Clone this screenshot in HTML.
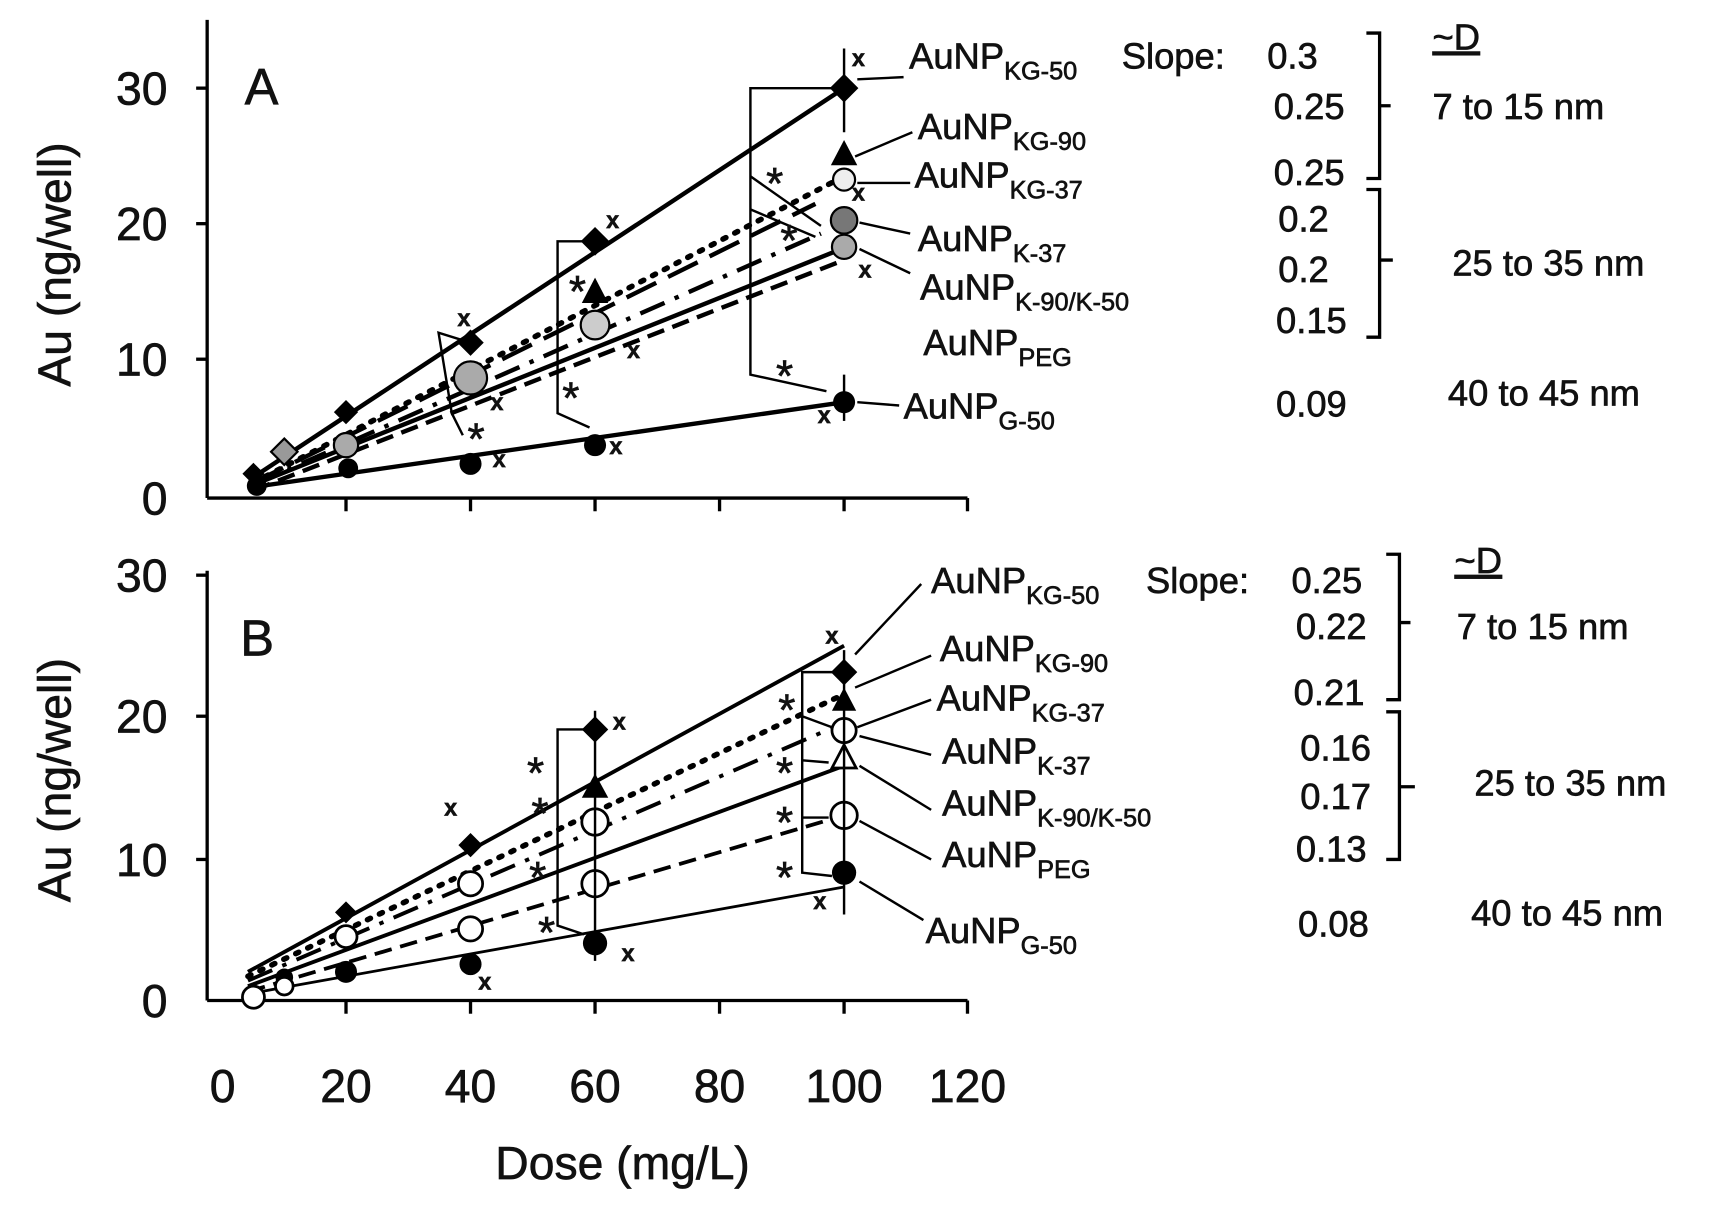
<!DOCTYPE html>
<html><head><meta charset="utf-8"><style>
html,body{margin:0;padding:0;background:#fff;}
svg{display:block;}
text{font-family:"Liberation Sans",sans-serif;fill:#111;stroke:#111;stroke-width:0.6;}
</style></head><body>
<svg width="1719" height="1206" viewBox="0 0 1560 1094.5" preserveAspectRatio="none" xmlns="http://www.w3.org/2000/svg">
<g stroke="#000" stroke-width="3" fill="none">
<line x1="188" y1="18" x2="188" y2="452"/>
<line x1="188" y1="452" x2="878" y2="452"/>
<line x1="178" y1="80" x2="188" y2="80"/><line x1="178" y1="203" x2="188" y2="203"/><line x1="178" y1="326" x2="188" y2="326"/>
<line x1="314" y1="452" x2="314" y2="464"/><line x1="427" y1="452" x2="427" y2="464"/><line x1="540" y1="452" x2="540" y2="464"/><line x1="653" y1="452" x2="653" y2="464"/><line x1="766" y1="452" x2="766" y2="464"/><line x1="878" y1="452" x2="878" y2="464"/>
<line x1="188" y1="518" x2="188" y2="908"/>
<line x1="188" y1="908" x2="878" y2="908"/>
<line x1="178" y1="522" x2="188" y2="522"/><line x1="178" y1="650" x2="188" y2="650"/><line x1="178" y1="780" x2="188" y2="780"/>
<line x1="314" y1="908" x2="314" y2="920"/><line x1="427" y1="908" x2="427" y2="920"/><line x1="540" y1="908" x2="540" y2="920"/><line x1="653" y1="908" x2="653" y2="920"/><line x1="766" y1="908" x2="766" y2="920"/><line x1="878" y1="908" x2="878" y2="920"/>
</g>
<g font-size="42" text-anchor="end">
<text x="152" y="95">30</text><text x="152" y="218">20</text><text x="152" y="341">10</text><text x="152" y="467">0</text>
<text x="152" y="537">30</text><text x="152" y="665">20</text><text x="152" y="795">10</text><text x="152" y="923">0</text>
</g>
<g font-size="42" text-anchor="middle">
<text x="202" y="1000">0</text><text x="314" y="1000">20</text><text x="427" y="1000">40</text><text x="540" y="1000">60</text><text x="653" y="1000">80</text><text x="766" y="1000">100</text><text x="878" y="1000">120</text>
<text x="565" y="1070">Dose (mg/L)</text>
<text transform="translate(64,240) rotate(-90)">Au (ng/well)</text>
<text transform="translate(64,708) rotate(-90)">Au (ng/well)</text>
</g>
<text x="222" y="95" font-size="46">A</text>
<text x="218" y="595" font-size="46">B</text>
<g stroke="#000" stroke-width="4" fill="none">
<line x1="230" y1="433" x2="766" y2="80"/>
<line x1="230" y1="442" x2="766" y2="365"/>
<line x1="230" y1="438" x2="766" y2="160" stroke-dasharray="3,9" stroke-linecap="round" stroke-width="5"/>
<line x1="230" y1="438" x2="740" y2="185" stroke-dasharray="30,12"/>
<line x1="230" y1="440" x2="745" y2="212" stroke-dasharray="24,10,4,10"/>
<line x1="230" y1="440" x2="766" y2="225"/>
<line x1="230" y1="445" x2="766" y2="236" stroke-dasharray="16,8"/>
</g>
<g stroke="#000" stroke-width="3.5" fill="none">
<line x1="225" y1="882" x2="766" y2="586"/>
<line x1="225" y1="886" x2="766" y2="630" stroke-dasharray="3,9" stroke-linecap="round" stroke-width="5"/>
<line x1="225" y1="890" x2="766" y2="656" stroke-dasharray="24,10,4,10"/>
<line x1="225" y1="895" x2="766" y2="695"/>
<line x1="225" y1="900" x2="766" y2="740" stroke-dasharray="16,8"/>
<line x1="225" y1="902" x2="766" y2="805" stroke-width="2.5"/>
</g>
<g fill="#000">
<polygon points="766,67 779,80 766,93 753,80"/><polygon points="540,206 553,219 540,232 527,219"/><polygon points="427,299 439,311 427,323 415,311"/><polygon points="314,363 325,374 314,385 303,374"/><polygon points="230,420 240,430 230,440 220,430"/>
<polygon points="766,127 778,150 754,150"/><polygon points="540,252 552,275 528,275"/>
<circle cx="766" cy="365" r="10"/><circle cx="540" cy="404" r="10"/><circle cx="427" cy="421" r="10"/><circle cx="316" cy="425" r="9"/><circle cx="233" cy="441" r="9"/>
</g>
<g stroke="#000" stroke-width="2" fill="#bbb">
<circle cx="766" cy="200" r="12" fill="#777"/><circle cx="766" cy="224" r="11" fill="#aaa"/><circle cx="766" cy="163" r="10" fill="#eee"/>
<circle cx="540" cy="295" r="13" fill="#ccc"/><circle cx="427" cy="343" r="15" fill="#aaa"/><circle cx="314" cy="404" r="11" fill="#aaa"/>
<polygon points="258,398 270,410 258,422 246,410" fill="#999"/>
</g>
<g fill="#000">
<polygon points="766,598 778,610 766,622 754,610"/><polygon points="540,650 552,662 540,674 528,662"/><polygon points="427,756 438,767 427,778 416,767"/><polygon points="314,818 324,828 314,838 304,828"/>
<polygon points="766,624 777,645 755,645"/><polygon points="540,702 552,724 528,724"/>
<circle cx="766" cy="792" r="11"/><circle cx="540" cy="856" r="11"/><circle cx="427" cy="875" r="10"/><circle cx="314" cy="882" r="10"/><circle cx="258" cy="887" r="8"/>
</g>
<g stroke="#000" stroke-width="2.5" fill="#fff">
<circle cx="766" cy="663" r="11"/><circle cx="766" cy="740" r="12"/><polygon points="766,676 777,697 755,697"/>
<circle cx="540" cy="746" r="12"/><circle cx="540" cy="802" r="12"/><circle cx="427" cy="802" r="11"/><circle cx="427" cy="843" r="11"/><circle cx="314" cy="850" r="10"/>
<circle cx="230" cy="905" r="10"/><circle cx="258" cy="895" r="8"/>
</g>
<g stroke="#000" stroke-width="2.2" fill="none">
<polyline points="766,80 681,80 681,340 750,355"/>
<polyline points="681,160 745,205"/><polyline points="681,190 740,215"/>
<polyline points="540,219 506,219 506,375 535,388"/><polyline points="427,311 398,302 410,375 420,395"/>
<line x1="766" y1="44" x2="766" y2="120"/><line x1="766" y1="340" x2="766" y2="382"/>
<polyline points="766,610 728,610 728,792 755,795"/><polyline points="728,650 755,660"/><polyline points="728,690 752,692"/><polyline points="728,742 752,742"/>
<polyline points="540,662 506,662 506,840 530,848"/>
<line x1="766" y1="590" x2="766" y2="830"/><line x1="540" y1="645" x2="540" y2="872"/>
<line x1="778" y1="72" x2="820" y2="70"/><line x1="776" y1="142" x2="828" y2="120"/><line x1="778" y1="166" x2="826" y2="166"/><line x1="780" y1="202" x2="826" y2="212"/><line x1="780" y1="226" x2="826" y2="248"/><line x1="778" y1="365" x2="816" y2="368"/>
<line x1="776" y1="594" x2="836" y2="530"/><line x1="776" y1="624" x2="845" y2="595"/><line x1="778" y1="660" x2="845" y2="635"/><line x1="780" y1="668" x2="845" y2="685"/><line x1="780" y1="695" x2="845" y2="735"/><line x1="780" y1="745" x2="845" y2="780"/><line x1="780" y1="800" x2="838" y2="835"/>
</g>
<g stroke="#000" stroke-width="3" fill="none">
<path d="M1240,30 h12 v66 h10 M1252,96 v66 h-12"/><path d="M1240,172 h12 v64 h12 M1252,236 v70 h-12"/>
<path d="M1258,503 h12 v62 h10 M1270,565 v70 h-12"/><path d="M1258,646 h12 v68 h14 M1270,714 v66 h-12"/>
</g>
<g font-size="40" text-anchor="middle">
<text x="703" y="180">*</text><text x="716" y="232">*</text><text x="712" y="355">*</text><text x="524" y="278">*</text><text x="518" y="375">*</text><text x="432" y="412">*</text>
<text x="714" y="658">*</text><text x="712" y="715">*</text><text x="712" y="760">*</text><text x="712" y="810">*</text>
<text x="486" y="715">*</text><text x="490" y="752">*</text><text x="488" y="810">*</text><text x="496" y="860">*</text>
</g>
<g font-size="21" text-anchor="middle" font-weight="bold">
<text x="779" y="60">x</text><text x="779" y="182">x</text><text x="785" y="252">x</text><text x="556" y="207">x</text><text x="575" y="325">x</text><text x="451" y="372">x</text><text x="421" y="296">x</text><text x="453" y="424">x</text><text x="559" y="412">x</text><text x="748" y="384">x</text>
<text x="755" y="584">x</text><text x="562" y="662">x</text><text x="409" y="740">x</text><text x="440" y="898">x</text><text x="570" y="872">x</text><text x="744" y="825">x</text>
</g>
<g font-size="33">
<text x="825" y="62">AuNP<tspan font-size="23" dy="10">KG-50</tspan></text>
<text x="833" y="126">AuNP<tspan font-size="23" dy="10">KG-90</tspan></text>
<text x="830" y="170">AuNP<tspan font-size="23" dy="10">KG-37</tspan></text>
<text x="833" y="228">AuNP<tspan font-size="23" dy="10">K-37</tspan></text>
<text x="835" y="272">AuNP<tspan font-size="23" dy="10">K-90/K-50</tspan></text>
<text x="838" y="322">AuNP<tspan font-size="23" dy="10">PEG</tspan></text>
<text x="820" y="380">AuNP<tspan font-size="23" dy="10">G-50</tspan></text>
<text x="1018" y="62">Slope:</text>
<text x="1150" y="62">0.3</text><text x="1156" y="108">0.25</text><text x="1156" y="168">0.25</text><text x="1160" y="210">0.2</text><text x="1160" y="256">0.2</text><text x="1158" y="302">0.15</text><text x="1158" y="378">0.09</text>
<text x="1300" y="108">7 to 15 nm</text><text x="1318" y="250">25 to 35 nm</text><text x="1314" y="368">40 to 45 nm</text>
<text x="1300" y="45" text-decoration="underline">~D</text>
<text x="845" y="538">AuNP<tspan font-size="23" dy="10">KG-50</tspan></text>
<text x="853" y="600">AuNP<tspan font-size="23" dy="10">KG-90</tspan></text>
<text x="850" y="645">AuNP<tspan font-size="23" dy="10">KG-37</tspan></text>
<text x="855" y="693">AuNP<tspan font-size="23" dy="10">K-37</tspan></text>
<text x="855" y="740">AuNP<tspan font-size="23" dy="10">K-90/K-50</tspan></text>
<text x="855" y="787">AuNP<tspan font-size="23" dy="10">PEG</tspan></text>
<text x="840" y="856">AuNP<tspan font-size="23" dy="10">G-50</tspan></text>
<text x="1040" y="538">Slope:</text>
<text x="1172" y="538">0.25</text><text x="1176" y="580">0.22</text><text x="1174" y="640">0.21</text><text x="1180" y="690">0.16</text><text x="1180" y="734">0.17</text><text x="1176" y="782">0.13</text><text x="1178" y="850">0.08</text>
<text x="1322" y="580">7 to 15 nm</text><text x="1338" y="722">25 to 35 nm</text><text x="1335" y="840">40 to 45 nm</text>
<text x="1320" y="520" text-decoration="underline">~D</text>
</g>
</svg>
</body></html>
